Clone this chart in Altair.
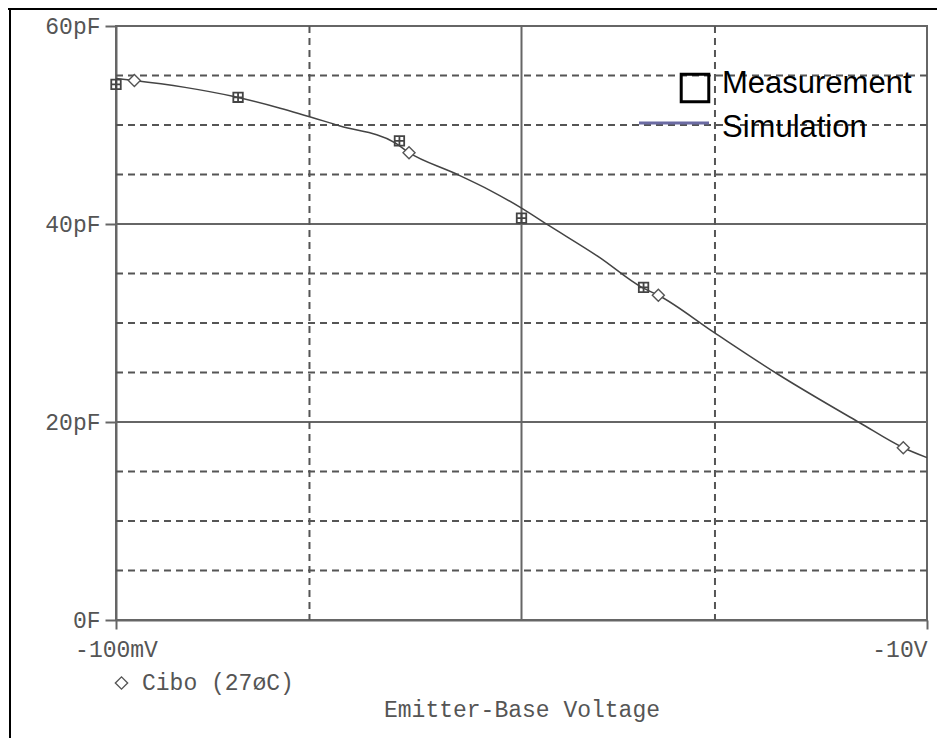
import altair as alt
import pandas as pd

# ---- data ----
meas_v = [0.1, 0.2, 0.5, 1.0, 2.0]
meas_c = [54.1, 52.8, 48.4, 40.6, 33.6]

sim_v = [0.1, 0.111, 0.148, 0.194, 0.254, 0.357, 0.488, 0.528, 0.678, 0.836,
         0.991, 1.162, 1.56, 1.98, 2.175, 2.97, 4.26, 6.84, 8.74, 10.0]
sim_c = [54.7, 54.5, 53.8, 52.9, 51.7, 49.9, 48.2, 47.2, 45.2, 43.4,
         41.7, 39.9, 36.6, 33.6, 32.8, 29.1, 24.9, 19.9, 17.4, 16.4]

marker_v = [0.111, 0.528, 2.175, 8.74]
marker_c = [54.5, 47.2, 32.8, 17.4]

y_minor = [5, 10, 15, 25, 30, 35, 45, 50, 55]
y_major = [20, 40]
x_minor = [0.3, 3]
x_major = [1]

x_tick_values = [0.1, 10]
x_tick_labels = ["-100mV", "-10V"]
y_tick_values = [0, 20, 40, 60]
y_tick_labels = ["0F", "20pF", "40pF", "60pF"]

legend_labels = ["Measurement", "Simulation"]
trace_labels = ["Cibo (27øC)"]
x_title = "Emitter-Base Voltage"

W, H = 811, 594
MONO = "Liberation Mono"
GRAY = "#555555"
FRAME = "#666666"

x_scale = alt.Scale(type="log", domain=[0.1, 10], nice=False)
y_scale = alt.Scale(domain=[0, 60], nice=False, zero=False)

x_label_expr = " : ".join(
    [f"datum.value < {v * 1.01} ? '{l}'" for v, l in zip(x_tick_values[:-1], x_tick_labels[:-1])]
    + [f"'{x_tick_labels[-1]}'"]
)
y_label_expr = " : ".join(
    [f"datum.value == {v} ? '{l}'" for v, l in zip(y_tick_values[:-1], y_tick_labels[:-1])]
    + [f"'{y_tick_labels[-1]}'"]
)

x_axis = alt.Axis(
    values=x_tick_values, labelExpr=x_label_expr, grid=False,
    labelFont=MONO, labelFontSize=23, labelColor=GRAY, labelPadding=9,
    labelAlign={"condition": {"test": "datum.value > 1", "value": "right"}, "value": "center"},
    labelOverlap=False, labelFlush=False, labelBound=False,
    tickSize=9, tickColor=FRAME, tickWidth=2, domainColor=FRAME, domainWidth=2,
    title=x_title, titleFont=MONO, titleFontSize=23, titleFontWeight="normal",
    titleColor=GRAY, titlePadding=37,
)
y_axis = alt.Axis(
    values=y_tick_values, labelExpr=y_label_expr, grid=False,
    labelFont=MONO, labelFontSize=23, labelColor=GRAY, labelPadding=5,
    labelOverlap=False, labelFlush=False, labelBound=False,
    tickSize=11, tickColor=FRAME, tickWidth=2, domainColor=FRAME, domainWidth=2,
    title=None,
)

X = lambda: alt.X("v:Q", scale=x_scale, axis=x_axis)
Y = lambda: alt.Y("c:Q", scale=y_scale, axis=y_axis)

sim_df = pd.DataFrame({"v": sim_v, "c": sim_c})
meas_df = pd.DataFrame({"v": meas_v, "c": meas_c})
mark_df = pd.DataFrame({"v": marker_v, "c": marker_c})

# grid lines
gy_minor = alt.Chart(pd.DataFrame({"c": y_minor})).mark_rule(
    color=GRAY, strokeWidth=2, strokeDash=[7, 5]
).encode(y=Y())
gy_major = alt.Chart(pd.DataFrame({"c": y_major})).mark_rule(
    color=FRAME, strokeWidth=2
).encode(y=Y())
gx_minor = alt.Chart(pd.DataFrame({"v": x_minor})).mark_rule(
    color=GRAY, strokeWidth=2, strokeDash=[7, 5]
).encode(x=X())
gx_major = alt.Chart(pd.DataFrame({"v": x_major})).mark_rule(
    color=FRAME, strokeWidth=2
).encode(x=X())

line = alt.Chart(sim_df).mark_line(
    color="#444444", strokeWidth=1.5, interpolate="monotone"
).encode(x=X(), y=Y())

diamonds = alt.Chart(mark_df).mark_point(
    shape="diamond", size=144, filled=True, fill="white", stroke=GRAY,
    strokeWidth=1.4, opacity=1
).encode(x=X(), y=Y())

squares = alt.Chart(meas_df).mark_point(
    shape="M-1,-1H1V1H-1Z M-1,0H1 M0,-1V1", size=90, filled=False,
    stroke="#444444", strokeWidth=1.8, opacity=1
).encode(x=X(), y=Y())

one = pd.DataFrame({"k": [0]})

# trace label under the x axis
trace_sym = alt.Chart(one).mark_point(
    shape="diamond", size=150, filled=False, stroke=GRAY, strokeWidth=1.4, opacity=1
).encode(x=alt.value(5.5), y=alt.value(657))
trace_txt = alt.Chart(pd.DataFrame({"t": trace_labels})).mark_text(
    font=MONO, fontSize=23, color=GRAY, align="left", baseline="middle"
).encode(x=alt.value(26), y=alt.value(657), text="t:N")

# legend box
leg_sq = alt.Chart(one).mark_point(
    shape="square", size=760, filled=False, stroke="black", strokeWidth=3, opacity=1
).encode(x=alt.value(579), y=alt.value(62))
leg_ln = alt.Chart(one).mark_rule(color="#6b6ba3", strokeWidth=3).encode(
    x=alt.value(523), x2=alt.value(593), y=alt.value(97)
)
leg_t1 = alt.Chart(pd.DataFrame({"t": legend_labels[:1]})).mark_text(
    font="Liberation Sans", fontSize=31, color="black", align="left", baseline="middle"
).encode(x=alt.value(606), y=alt.value(58), text="t:N")
leg_t2 = alt.Chart(pd.DataFrame({"t": legend_labels[1:]})).mark_text(
    font="Liberation Sans", fontSize=31, color="black", align="left", baseline="middle"
).encode(x=alt.value(606), y=alt.value(102), text="t:N")

# outer figure frame
frame_left = alt.Chart(one).mark_rule(color="black", strokeWidth=2).encode(
    x=alt.value(-106), y=alt.value(-18), y2=alt.value(H + 118)
)
frame_top = alt.Chart(one).mark_rule(color="black", strokeWidth=2).encode(
    x=alt.value(-108), x2=alt.value(W + 12), y=alt.value(-17)
)

chart = alt.layer(
    gy_minor, gy_major, gx_minor, gx_major, line, diamonds, squares,
    trace_sym, trace_txt, leg_sq, leg_ln, leg_t1, leg_t2, frame_left, frame_top
).properties(
    width=W, height=H,
    autosize=alt.AutoSizeParams(type="none"),
    padding={"left": 108, "top": 18, "right": 10, "bottom": 118},
    background="white",
).configure_view(stroke=FRAME, strokeWidth=2)

chart.save("out.html", embed_options={"renderer": "svg", "actions": False})
